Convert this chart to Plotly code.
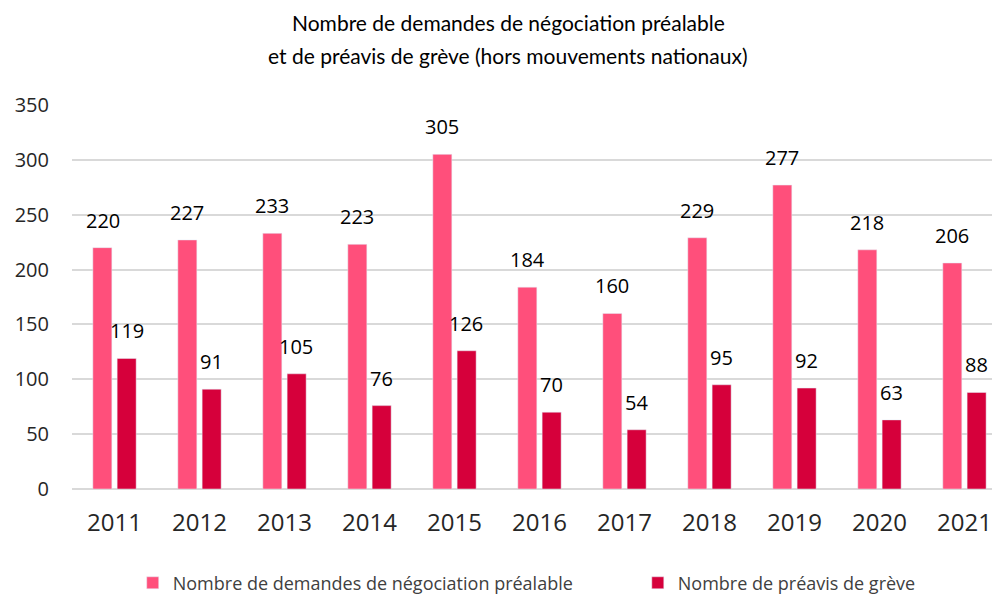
import plotly.graph_objects as go

years = ["2011", "2012", "2013", "2014", "2015", "2016", "2017", "2018", "2019", "2020", "2021"]
demandes = [220, 227, 233, 223, 305, 184, 160, 229, 277, 218, 206]
preavis = [119, 91, 105, 76, 126, 70, 54, 95, 92, 63, 88]

name_demandes = "Nombre de demandes de négociation préalable"
name_preavis = "Nombre de préavis de grève"
title_line1 = "Nombre de demandes de négociation préalable"
title_line2 = "et de préavis de grève (hors mouvements nationaux)"

color_demandes = "#FF4F7B"
color_preavis = "#D6003B"
label_font = dict(family="Open Sans, sans-serif", size=20, color="#000000")

fig = go.Figure()
fig.add_trace(go.Bar(x=years, y=demandes, name=name_demandes,
                     marker_color=color_demandes, legend="legend"))
fig.add_trace(go.Bar(x=years, y=preavis, name=name_preavis,
                     marker_color=color_preavis, legend="legend2"))

# value labels above bars (x given as category index)
for i, v in enumerate(demandes):
    fig.add_annotation(x=i, y=v, text=str(v), showarrow=False,
                       xshift=-12, yshift=12, yanchor="bottom", font=label_font)
for i, v in enumerate(preavis):
    fig.add_annotation(x=i, y=v, text=str(v), showarrow=False,
                       xshift=12, yshift=12, yanchor="bottom", font=label_font)

title_font = dict(family="Lato, sans-serif", size=21, color="#000000")
fig.add_annotation(text=title_line1, xref="paper", yref="paper",
                   x=0.474, y=1.216, xanchor="center", yanchor="middle",
                   showarrow=False, font=title_font)
fig.add_annotation(text=title_line2, xref="paper", yref="paper",
                   x=0.474, y=1.130, xanchor="center", yanchor="middle",
                   showarrow=False, font=title_font)

legend_font = dict(family="Open Sans, sans-serif", size=18, color="#404040")

fig.update_layout(
    width=992, height=599,
    paper_bgcolor="white", plot_bgcolor="white",
    margin=dict(l=72, r=0, t=105, b=110, autoexpand=False),
    barmode="group", bargap=0.428, bargroupgap=0.218,
    xaxis=dict(
        type="category", range=[-0.5, 10.324], automargin=False,
        tickfont=dict(family="Open Sans, sans-serif", size=24, color="#262626"),
        showline=False, showgrid=False, ticks="", ticklabelstandoff=17,
    ),
    yaxis=dict(
        range=[0, 350], dtick=50, automargin=False,
        gridcolor="#D9D9D9", gridwidth=1.5,
        zeroline=True, zerolinecolor="#D9D9D9", zerolinewidth=1.5,
        tickfont=dict(family="Open Sans, sans-serif", size=20, color="#262626"),
        ticks="", ticklabelstandoff=22,
    ),
    legend=dict(
        orientation="h", x=0.066, xanchor="left",
        y=-0.245, yanchor="middle",
        font=legend_font, bgcolor="rgba(0,0,0,0)",
    ),
    legend2=dict(
        orientation="h", x=0.615, xanchor="left",
        y=-0.245, yanchor="middle",
        font=legend_font, bgcolor="rgba(0,0,0,0)",
    ),
    showlegend=True,
)

fig.write_html(
    "out.html",
    config={"displayModeBar": False},
    post_script="document.documentElement.style.margin='0';"
                "document.body.style.margin='0';"
                "document.body.style.overflow='hidden';",
)
